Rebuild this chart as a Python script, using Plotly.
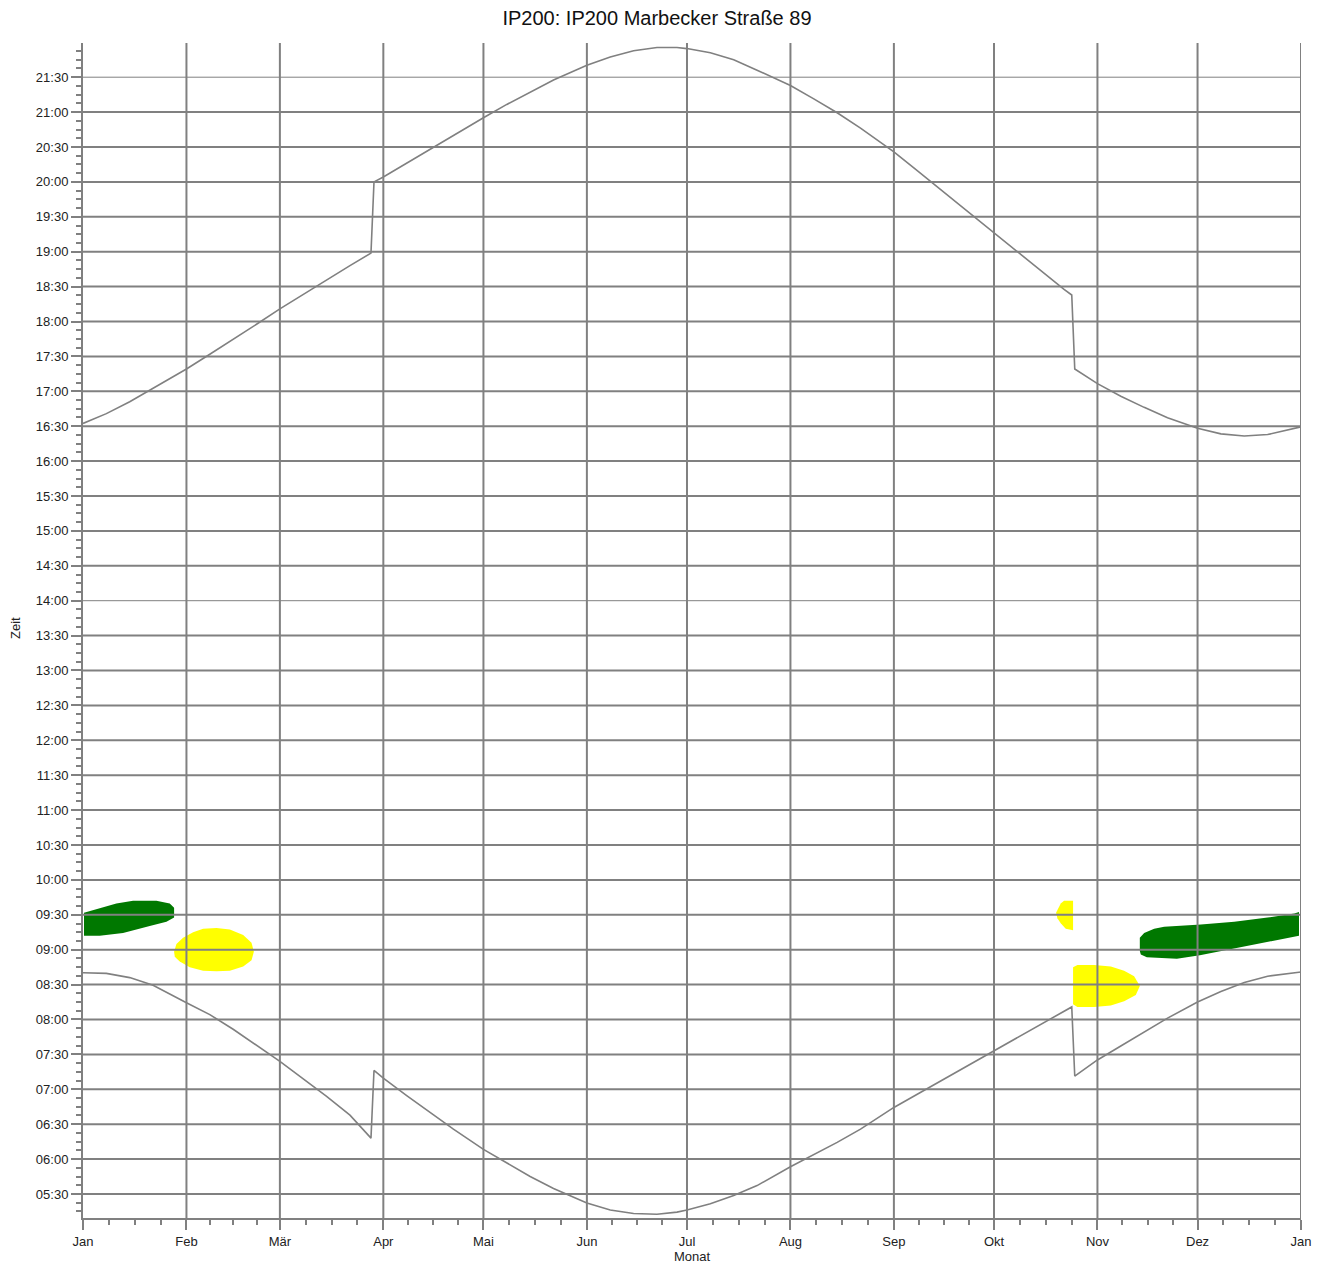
import plotly.graph_objects as go

# ---------------- data ----------------
month_labels = ["Jan", "Feb", "Mär", "Apr", "Mai", "Jun", "Jul", "Aug", "Sep", "Okt", "Nov", "Dez", "Jan"]
month_start_days = [0, 31, 59, 90, 120, 151, 181, 212, 243, 273, 304, 334, 365]

time_tick_hours = [5.5 + 0.5 * i for i in range(33)]
time_tick_labels = ["%02d:%02d" % (int(h), int(round((h % 1) * 60))) for h in time_tick_hours]

sunset_day = [0, 7, 14, 21, 31, 38, 45, 52, 59, 66, 73, 80, 86.3, 87.2, 90, 97, 104, 111, 120, 127, 134, 141,
              151, 158, 165, 172, 178, 181, 188, 195, 202, 212, 219, 226, 233, 243, 250, 257, 264, 273, 280,
              287, 294, 296.3, 297.2, 304, 311, 318, 325, 334, 341, 348, 355, 365]
sunset_hour = [16.54, 16.68, 16.85, 17.04, 17.32, 17.53, 17.74, 17.96, 18.18, 18.39, 18.59, 18.80, 18.98,
               20.00, 20.07, 20.27, 20.47, 20.67, 20.92, 21.11, 21.29, 21.46, 21.67, 21.79, 21.88, 21.925,
               21.925, 21.91, 21.85, 21.75, 21.60, 21.38, 21.19, 20.99, 20.77, 20.43, 20.16, 19.89, 19.62,
               19.27, 18.99, 18.72, 18.46, 18.38, 17.32, 17.11, 16.93, 16.77, 16.62, 16.47, 16.39, 16.36,
               16.38, 16.49]

sunrise_day = [0, 7, 14, 21, 31, 38, 45, 52, 59, 66, 73, 80, 86.3, 87.2, 90, 97, 104, 111, 120, 127, 134, 141,
               151, 158, 165, 172, 178, 181, 188, 195, 202, 212, 219, 226, 233, 243, 250, 257, 264, 273, 280,
               287, 294, 296.3, 297.2, 304, 311, 318, 325, 334, 341, 348, 355, 365]
sunrise_hour = [8.67, 8.66, 8.60, 8.49, 8.24, 8.07, 7.86, 7.63, 7.40, 7.15, 6.90, 6.63, 6.30, 7.27, 7.16,
                6.91, 6.67, 6.43, 6.14, 5.94, 5.75, 5.58, 5.37, 5.27, 5.22, 5.21, 5.24, 5.27, 5.36, 5.48,
                5.62, 5.89, 6.06, 6.24, 6.43, 6.74, 6.93, 7.12, 7.30, 7.55, 7.74, 7.93, 8.12, 8.18, 7.19,
                7.42, 7.62, 7.82, 8.02, 8.25, 8.40, 8.53, 8.62, 8.68]

green1_day = [0.3, 4, 10, 15, 22, 26, 27.3, 27.3, 25, 20, 12, 5, 0.3]
green1_hour = [9.53, 9.58, 9.66, 9.70, 9.70, 9.66, 9.60, 9.46, 9.40, 9.34, 9.24, 9.20, 9.20]

yellow1_day = [27.3, 28, 30, 33, 36, 40, 44, 48, 50.5, 51.2, 50.5, 48, 44, 40, 36, 32, 29, 27.5]
yellow1_hour = [8.97, 9.08, 9.17, 9.25, 9.30, 9.31, 9.29, 9.21, 9.10, 8.97, 8.85, 8.76, 8.70, 8.69, 8.70, 8.75,
                8.83, 8.90]

yellow2_day = [296.7, 294, 293, 292, 291.6, 292, 293, 294.5, 296.7]
yellow2_hour = [9.70, 9.70, 9.66, 9.58, 9.53, 9.45, 9.38, 9.30, 9.28]

yellow3_day = [296.7, 298, 303, 308, 312, 315, 316.7, 315.5, 312, 308, 303, 298, 296.7]
yellow3_hour = [8.75, 8.78, 8.78, 8.76, 8.70, 8.62, 8.48, 8.35, 8.26, 8.20, 8.18, 8.18, 8.22]

green2_day = [316.7, 316.7, 318, 321, 324, 335, 345, 355, 363, 364.4, 364.4, 353.6, 343.7, 334.7, 327.8, 318.8, 317]
green2_hour = [8.98, 9.17, 9.24, 9.30, 9.33, 9.36, 9.40, 9.46, 9.52, 9.54, 9.20, 9.10, 9.00, 8.92, 8.87, 8.89, 8.93]

thin_grid_hours = [21.5, 14.0]

# ---------------- figure ----------------
GRID = "#808080"
FONT = "Liberation Sans, Arial, sans-serif"
GREEN = "#007800"
YELLOW = "#FFFF00"

fig = go.Figure()

for xs, ys, col in [(green1_day, green1_hour, GREEN), (yellow1_day, yellow1_hour, YELLOW),
                    (yellow2_day, yellow2_hour, YELLOW), (yellow3_day, yellow3_hour, YELLOW),
                    (green2_day, green2_hour, GREEN)]:
    fig.add_trace(go.Scatter(x=xs, y=ys, mode="lines", fill="toself", fillcolor=col,
                             line=dict(width=0, color=col), hoverinfo="skip", showlegend=False))

for xs, ys in [(sunset_day, sunset_hour), (sunrise_day, sunrise_hour)]:
    fig.add_trace(go.Scatter(x=xs, y=ys, mode="lines", line=dict(color=GRID, width=1.6),
                             hoverinfo="skip", showlegend=False))

Y0, Y1 = 5.156, 21.99
shapes = []
for h in time_tick_hours:
    shapes.append(dict(type="line", xref="x", yref="y", x0=0, x1=365.6, y0=h, y1=h, layer="above",
                       line=dict(color=GRID, width=1 if h in thin_grid_hours else 2)))
for d in month_start_days[1:]:
    shapes.append(dict(type="line", xref="x", yref="y", x0=d, x1=d, y0=Y0, y1=Y1, layer="above",
                       line=dict(color=GRID, width=2)))

# page body adds an 8px offset, so the figure is 8px smaller and margins shifted
W, H = 1319, 1255
ML, MR, MT, MB = 75, 26, 35, 45
PW, PH = W - ML - MR, H - MT - MB

fig.update_layout(
    width=W, height=H,
    margin=dict(l=ML, r=MR, t=MT, b=MB, autoexpand=False),
    paper_bgcolor="white", plot_bgcolor="white",
    font=dict(family=FONT, size=13, color="#222222"),
    title=dict(text="IP200: IP200 Marbecker Straße 89", x=(657 - 8) / W, xanchor="center",
               y=1 - 10 / H, yanchor="middle",
               font=dict(family=FONT, size=20, color="#111111")),
    shapes=shapes,
    showlegend=False,
    annotations=[
        dict(text="Zeit", xref="paper", yref="paper", x=(8 - ML) / PW, y=1 - (620 - MT) / PH,
             textangle=-90, showarrow=False, xanchor="center", yanchor="middle",
             font=dict(size=13, color="#222222")),
        dict(text="Monat", xref="paper", yref="paper", x=(684 - ML) / PW, y=1 - (1248 - MT) / PH,
             showarrow=False, xanchor="center", yanchor="middle",
             font=dict(size=13, color="#222222")),
    ],
)

fig.update_xaxes(
    range=[0, 365], tickmode="array", tickvals=month_start_days, ticktext=month_labels,
    showgrid=False, zeroline=False, showline=True, linecolor=GRID, linewidth=2,
    ticks="outside", ticklen=10, tickwidth=2, tickcolor=GRID, automargin=False,
    tickfont=dict(size=13, color="#222222"),
    minor=dict(tickmode="array",
               tickvals=[a + (b - a) * k / 4 for a, b in zip(month_start_days[:-1], month_start_days[1:]) for k in (1, 2, 3)],
               ticks="outside", ticklen=5, tickwidth=2, tickcolor=GRID, showgrid=False),
)

fig.update_yaxes(
    range=[Y0, Y1], tickmode="array", tickvals=time_tick_hours, ticktext=time_tick_labels,
    showgrid=False, zeroline=False, showline=True, linecolor=GRID, linewidth=2,
    ticks="outside", ticklen=10, tickwidth=2, tickcolor=GRID, automargin=False,
    tickfont=dict(size=13, color="#222222"),
    minor=dict(tickmode="linear", tick0=0, dtick=0.125, ticks="outside", ticklen=5, tickwidth=2,
               tickcolor=GRID, showgrid=False),
)

fig.write_html("out.html")
